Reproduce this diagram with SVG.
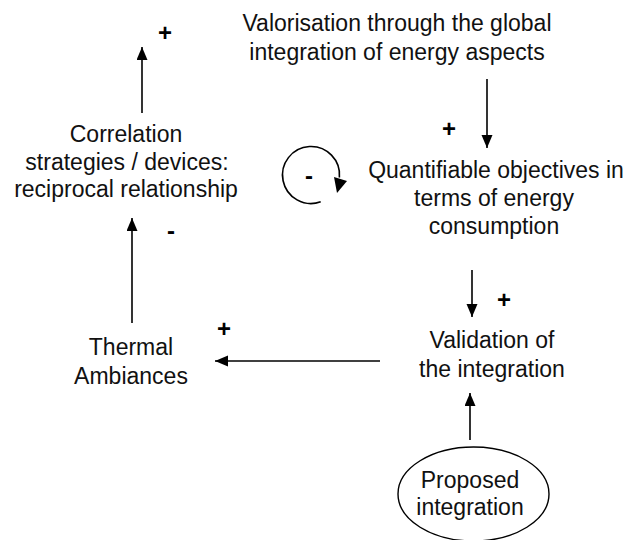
<svg xmlns="http://www.w3.org/2000/svg" width="630" height="540" viewBox="0 0 630 540">
<style>
.t{font-family:"Liberation Sans",Arial,sans-serif;font-size:23px;fill:#111;text-anchor:middle}
.s{font-family:"Liberation Sans",Arial,sans-serif;font-size:24px;font-weight:bold;fill:#000;text-anchor:middle}
.c{stroke:#000;stroke-width:1.6;fill:none}
</style>
<defs>
<marker id="ah" markerUnits="userSpaceOnUse" markerWidth="14" markerHeight="12" refX="13" refY="5.5" orient="auto">
<path d="M0,0 L13,5.5 L0,11 z" fill="#000"/>
</marker>
</defs>
<rect width="630" height="540" fill="#fff"/>
<g id="valorisation">
<text class="t" x="397" y="31">Valorisation through the global</text>
<text class="t" x="397" y="60">integration of energy aspects</text>
</g>
<g id="correlation">
<text class="t" x="126" y="142">Correlation</text>
<text class="t" x="127" y="170">strategies / devices:</text>
<text class="t" x="126" y="197">reciprocal relationship</text>
</g>
<g id="quantifiable">
<text class="t" x="496" y="178">Quantifiable objectives in</text>
<text class="t" x="494" y="206">terms of energy</text>
<text class="t" x="494" y="234">consumption</text>
</g>
<g id="validation">
<text class="t" x="492" y="348">Validation of</text>
<text class="t" x="492" y="377">the integration</text>
</g>
<g id="thermal">
<text class="t" x="131" y="355">Thermal</text>
<text class="t" x="131" y="384">Ambiances</text>
</g>
<g id="proposed">
<ellipse cx="473.5" cy="494" rx="75.5" ry="47" fill="#fff" stroke="#000" stroke-width="1.4"/>
<text class="t" x="470" y="488">Proposed</text>
<text class="t" x="470" y="515">integration</text>
</g>
<g id="loop">
<path class="c" d="M320.7,201.8 A28.5,28.5 0 1 1 339.4,177.5"/>
<polygon points="334,177 347,181 337,193" fill="#000"/>
<text class="s" x="309" y="184">-</text>
</g>
<g id="connectors">
<line class="c" x1="142" y1="113" x2="142" y2="47" marker-end="url(#ah)"/>
<line class="c" x1="487" y1="79" x2="487" y2="148" marker-end="url(#ah)"/>
<line class="c" x1="472" y1="270" x2="472" y2="317" marker-end="url(#ah)"/>
<line class="c" x1="380" y1="361" x2="215" y2="361" marker-end="url(#ah)"/>
<line class="c" x1="132" y1="323" x2="132" y2="218" marker-end="url(#ah)"/>
<line class="c" x1="470" y1="440" x2="470" y2="393" marker-end="url(#ah)"/>
</g>
<g id="signs">
<text class="s" x="165" y="41">+</text>
<text class="s" x="449" y="137">+</text>
<text class="s" x="504" y="308">+</text>
<text class="s" x="224" y="337">+</text>
<text class="s" x="171" y="239">-</text>
</g>
</svg>
